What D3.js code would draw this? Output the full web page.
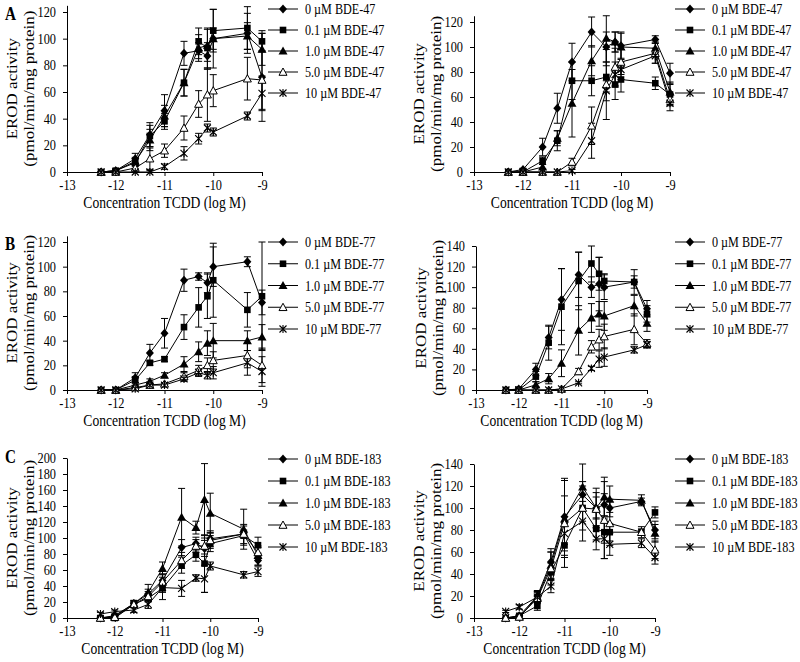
<!DOCTYPE html>
<html><head><meta charset="utf-8">
<script src="https://cdn.jsdelivr.net/npm/d3@7"></script>
<style>body{margin:0;background:#fff}</style>
</head><body>
<svg id="chart" width="800" height="662"></svg>
<script>
// ---- data ----
const xLog = [-12.3, -12, -11.6, -11.3, -11, -10.6, -10.3, -10.12, -10, -9.3, -9];
const xTicks = [-13, -12, -11, -10, -9];
const xTickLabels = ["-13", "-12", "-11", "-10", "-9"];
const doses = ["0", "0.1", "1.0", "5.0", "10"];
const congeners = ["BDE-47", "BDE-77", "BDE-183"];
const yTicks120 = [0, 20, 40, 60, 80, 100, 120];
const yTicks140 = [0, 20, 40, 60, 80, 100, 120, 140];
const yTicks200 = [0, 20, 40, 60, 80, 100, 120, 140, 160, 180, 200];
const xTitle = "Concentration TCDD (log M)";
const yTitle1 = "EROD activity";
const yTitle2 = "(pmol/min/mg protein)";

const aLeftValues = [
  [0, 1, 10, 28, 46, 89, 91, 87, 100, 104, 71],
  [0, 1, 7, 27, 38, 67, 98, 93, 106, 108, 98],
  [0, 1, 8, 24, 42, 67, 93, 95, 100, 102, 92],
  [0, 0, 3, 10, 16, 33, 51, 58, 61, 70, 69],
  [0, 0, 0, 0, 4, 14, 25, 33, 30, 42, 59]];
const aLeftErrors = [
  [0.5, 1, 4, 9, 12, 9, 6, 10, 8, 15, 33],
  [0.5, 1, 3, 8, 6, 10, 10, 15, 16, 16, 8],
  [0.5, 1, 3, 8, 8, 10, 10, 12, 22, 10, 12],
  [0, 0, 2, 8, 5, 9, 10, 20, 12, 16, 22],
  [0, 0, 1, 1, 2, 5, 4, 3, 3, 3, 13]];

const aRightValues = [
  [0, 2, 20, 51, 88, 112, 100, 104, 101, 106, 79],
  [0, 0, 9, 25, 73, 73, 76, 70, 74, 71, 62],
  [0, 0, 4, 27, 55, 89, 107, 104, 100, 99, 64],
  [0, 0, 0, 0, 8, 37, 70, 84, 88, 95, 58],
  [0, 0, 0, 0, 1, 25, 65, 78, 82, 93, 55]];
const aRightErrors = [
  [0, 1, 7, 12, 15, 12, 12, 8, 10, 3, 8],
  [0, 0, 3, 8, 15, 12, 12, 12, 10, 5, 8],
  [0, 0, 2, 6, 27, 12, 22, 8, 12, 5, 8],
  [0, 0, 0, 0, 3, 15, 28, 15, 10, 8, 5],
  [0, 0, 0, 0, 1, 14, 8, 10, 8, 6, 6]];

const bLeftValues = [
  [0, 0, 10, 30, 46, 89, 92, 87, 100, 104, 71],
  [0, 0, 8, 22, 25, 51, 67, 76, 89, 65, 76],
  [0, 0, 4, 7, 12, 21, 31, 38, 40, 40, 43],
  [0, 0, 2, 4, 5, 11, 16, 20, 24, 28, 20],
  [0, 0, 1, 4, 4, 9, 14, 12, 14, 22, 15]];
const bLeftErrors = [
  [0, 0, 4, 7, 12, 9, 3, 8, 16, 4, 10],
  [0, 0, 3, 2, 2, 10, 16, 18, 30, 14, 44],
  [0, 0, 2, 2, 2, 6, 8, 10, 14, 8, 10],
  [0, 0, 1, 1, 1, 3, 4, 6, 7, 10, 14],
  [0, 0, 1, 1, 1, 2, 3, 3, 5, 10, 12]];

const bRightValues = [
  [0, 1, 20, 51, 88, 112, 100, 103, 100, 105, 79],
  [0, 0, 13, 46, 81, 106, 123, 113, 106, 105, 74],
  [0, 0, 5, 11, 26, 58, 70, 74, 72, 82, 65],
  [0, 0, 0, 0, 1, 18, 42, 49, 52, 59, 45],
  [0, 0, 0, 0, 1, 7, 21, 30, 32, 39, 44]];
const bRightErrors = [
  [0, 2, 6, 11, 30, 22, 10, 26, 12, 12, 8],
  [0, 2, 5, 17, 37, 28, 18, 16, 7, 6, 8],
  [0, 0, 3, 5, 13, 24, 14, 12, 14, 10, 8],
  [0, 0, 0, 0, 0, 3, 6, 10, 12, 15, 4],
  [0, 0, 0, 0, 0, 1, 2, 8, 9, 3, 3]];

const cLeftValues = [
  [0, 3, 18, 30, 47, 88, 93, 87, 99, 105, 72],
  [0, 0, 17, 25, 37, 66, 79, 68, 93, 103, 91],
  [0, 2, 18, 32, 62, 126, 113, 148, 131, 111, 78],
  [0, 1, 17, 27, 45, 72, 90, 90, 97, 105, 82],
  [5, 8, 10, 17, 38, 37, 50, 49, 65, 54, 58]];
const cLeftErrors = [
  [0, 1, 4, 6, 8, 10, 8, 10, 10, 12, 6],
  [0, 1, 3, 5, 14, 10, 8, 36, 10, 12, 10],
  [1, 1, 4, 10, 8, 36, 8, 45, 25, 25, 12],
  [0, 1, 3, 6, 10, 10, 8, 10, 10, 5, 6],
  [2, 2, 3, 5, 6, 10, 4, 17, 5, 4, 6]];

const cRightValues = [
  [0, 2, 20, 51, 92, 112, 100, 103, 100, 106, 80],
  [0, 2, 11, 42, 66, 100, 81, 78, 78, 78, 96],
  [0, 1, 19, 48, 90, 119, 100, 110, 108, 107, 77],
  [0, 1, 18, 45, 86, 100, 99, 89, 86, 78, 62],
  [6, 10, 19, 29, 77, 88, 72, 72, 67, 68, 55]];
const cRightErrors = [
  [0, 1, 5, 12, 35, 12, 10, 10, 8, 3, 8],
  [0, 1, 4, 8, 20, 12, 10, 10, 8, 3, 5],
  [0, 1, 5, 12, 35, 22, 18, 18, 12, 5, 8],
  [0, 1, 5, 15, 25, 20, 15, 35, 20, 5, 8],
  [1, 2, 5, 6, 10, 18, 10, 18, 10, 4, 6]];

// ---- layout ----
const FONT = "'Liberation Serif','Times New Roman',serif";
const SX = 0.8;       // horizontal squeeze for titles
const SX_TICK = 0.88; // tick labels
const SX_LEG = 0.81;  // legend labels
const panels = [
  {vals: aLeftValues, errs: aLeftErrors, cong: 0, x0: 67, x1: 262, y0: 172, topTick: 120, topPx: 12, yMax: 125, ticks: yTicks120, legX: 268, legY: 9, legDy: 21, letter: "A", letterY: 20},
  {vals: aRightValues, errs: aRightErrors, cong: 0, x0: 474, x1: 670, y0: 172, topTick: 120, topPx: 22, yMax: 125, ticks: yTicks120, legX: 675, legY: 9, legDy: 21},
  {vals: bLeftValues, errs: bLeftErrors, cong: 1, x0: 67, x1: 262, y0: 390, topTick: 120, topPx: 242, yMax: 125, ticks: yTicks120, legX: 268, legY: 242, legDy: 21.75, letter: "B", letterY: 250},
  {vals: bRightValues, errs: bRightErrors, cong: 1, x0: 476, x1: 647, y0: 390, topTick: 140, topPx: 246, yMax: 140, ticks: yTicks140, legX: 675, legY: 242, legDy: 21.75},
  {vals: cLeftValues, errs: cLeftErrors, cong: 2, x0: 67, x1: 258, y0: 618, topTick: 200, topPx: 458, yMax: 200, ticks: yTicks200, legX: 268, legY: 459, legDy: 22, letter: "C", letterY: 463},
  {vals: cRightValues, errs: cRightErrors, cong: 2, x0: 474, x1: 655, y0: 618, topTick: 140, topPx: 464, yMax: 140, ticks: yTicks140, legX: 675, legY: 459, legDy: 22}
];

const svg = d3.select("#chart");

function text(g, x, y, s, size, anchor, rot, weight, sx) {
  g.append("text")
    .attr("transform", `translate(${x},${y}) scale(${sx || SX},1)` + (rot ? ` rotate(${rot})` : ""))
    .attr("text-anchor", anchor)
    .style("font-family", FONT)
    .style("font-size", size + "px")
    .style("font-weight", weight || "normal")
    .attr("fill", "#000")
    .text(s);
}

function marker(g, k, cx, cy) {
  const m = g.append("g").attr("transform", `translate(${cx},${cy})`);
  if (k === 0) {
    m.append("path").attr("d", "M0,-4.5L4,0L0,4.5L-4,0Z").attr("fill", "#000");
  } else if (k === 1) {
    m.append("rect").attr("x", -3.3).attr("y", -3.3).attr("width", 6.6).attr("height", 6.6).attr("fill", "#000");
  } else if (k === 2) {
    m.append("path").attr("d", "M0,-4.5L4.5,3.5L-4.5,3.5Z").attr("fill", "#000");
  } else if (k === 3) {
    m.append("path").attr("d", "M0,-4L4,3.3L-4,3.3Z").attr("fill", "#fff").attr("stroke", "#000").attr("stroke-width", 1);
  } else {
    m.append("path").attr("d", "M-3.5,-3.5L3.5,3.5M-3.5,3.5L3.5,-3.5M0,-4L0,4")
      .attr("stroke", "#000").attr("stroke-width", 1.1).attr("fill", "none");
  }
}

panels.forEach(p => {
  const g = svg.append("g");
  const x = d3.scaleLinear().domain([-13, -9]).range([p.x0, p.x1]);
  const yBase = d3.scaleLinear().domain([0, p.topTick]).range([p.y0, p.topPx]);
  const y = d3.scaleLinear().domain([0, p.yMax]).range([p.y0, yBase(p.yMax)]);

  // y axis
  const ya = g.append("g").attr("transform", `translate(${p.x0},0)`)
    .call(d3.axisLeft(y).tickValues(p.ticks).tickSize(4).tickSizeOuter(0).tickPadding(7));
  ya.selectAll("text").attr("transform", `scale(${SX_TICK},1)`).attr("x", -11 / SX_TICK)
    .style("font-family", FONT).style("font-size", "14px").attr("fill", "#000");
  ya.select(".domain").attr("stroke", "#000");
  ya.selectAll(".tick line").attr("stroke", "#000");

  // x axis
  const xa = g.append("g").attr("transform", `translate(0,${y(0)})`)
    .call(d3.axisBottom(x).tickValues(xTicks).tickFormat((d, i) => xTickLabels[i]).tickSize(4).tickSizeOuter(0).tickPadding(4));
  xa.selectAll("text").attr("transform", `scale(${SX_TICK},1)`).attr("x", 0)
    .style("font-family", FONT).style("font-size", "14px").attr("fill", "#000");
  xa.select(".domain").attr("stroke", "#000");
  xa.selectAll(".tick line").attr("stroke", "#000");

  // titles
  text(g, (p.x0 + p.x1) / 2, p.y0 + 36, xTitle, 17, "middle");
  const yc = (p.y0 + y(p.yMax)) / 2;
  text(g, p.x0 - 50, yc, yTitle1, 17, "middle", -90);
  text(g, p.x0 - 33, yc, yTitle2, 17, "middle", -90);
  if (p.letter) text(g, 5, p.letterY, p.letter, 19, "start", 0, "bold");

  const idx = d3.range(xLog.length);
  // error bars
  p.vals.forEach((vals, k) => {
    const eg = g.append("g").attr("stroke", "#000").attr("stroke-width", 1).attr("fill", "none");
    idx.forEach(i => {
      const e = p.errs[k][i];
      if (!e) return;
      const cx = x(xLog[i]);
      const lo = y(Math.max(0, vals[i] - e)), hi = y(Math.min(p.yMax, vals[i] + e));
      eg.append("line").attr("x1", cx).attr("x2", cx).attr("y1", lo).attr("y2", hi);
      eg.append("line").attr("x1", cx - 3.5).attr("x2", cx + 3.5).attr("y1", hi).attr("y2", hi);
      if (vals[i] - e > 0) eg.append("line").attr("x1", cx - 3.5).attr("x2", cx + 3.5).attr("y1", lo).attr("y2", lo);
    });
  });
  // lines
  const line = d3.line().x((d, i) => x(xLog[i])).y(d => y(d));
  p.vals.forEach(vals => {
    g.append("path").attr("d", line(vals)).attr("fill", "none").attr("stroke", "#000").attr("stroke-width", 1);
  });
  // markers
  p.vals.forEach((vals, k) => {
    vals.forEach((v, i) => marker(g, k, x(xLog[i]), y(v)));
  });

  // legend
  doses.forEach((d, k) => {
    const ly = p.legY + k * p.legDy;
    g.append("line").attr("x1", p.legX).attr("x2", p.legX + 30).attr("y1", ly).attr("y2", ly)
      .attr("stroke", "#000").attr("stroke-width", 1);
    marker(g, k, p.legX + 15, ly);
    text(g, p.legX + 37, ly + 5, `${d} \u00B5M ${congeners[p.cong]}`, 15, "start", 0, "normal", SX_LEG);
  });
});
</script>
</body></html>
